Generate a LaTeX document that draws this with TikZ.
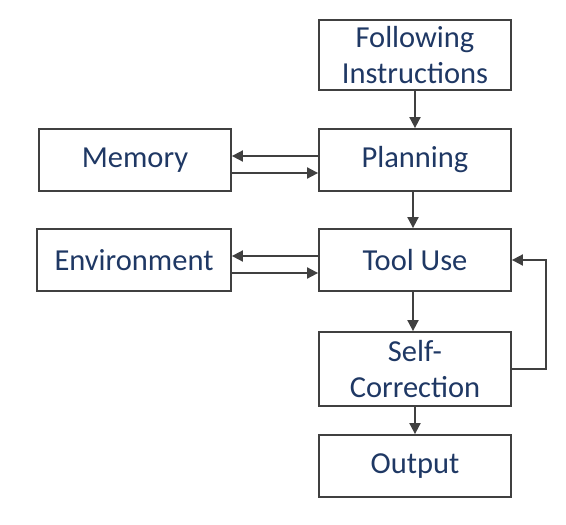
\documentclass[tikz,border=0pt]{standalone}
\usepackage{fontspec}
\setmainfont{Carlito}
\usetikzlibrary{arrows.meta}
\definecolor{txt}{HTML}{1F3864}
\definecolor{ln}{HTML}{404040}
\begin{document}
\begin{tikzpicture}[x=1pt,y=-1pt,
  box/.style={draw=ln,line width=1.8pt,minimum width=192pt,align=center,text=txt,font=\fontsize{30.5}{36}\selectfont,inner sep=0pt},
  arr/.style={draw=ln,line width=1.8pt,-{Triangle[length=11pt,width=11pt]}}]
\useasboundingbox (0,0) rectangle (566,525);
\node[box,minimum height=70pt] (fi) at (415,55) {Following\\Instructions};
\node[box,minimum height=62pt] (pl) at (415,160) {Planning};
\node[box,minimum height=62pt] (mem) at (135,160) {Memory};
\node[box,minimum height=62pt] (tu) at (415,260) {Tool Use};
\node[box,minimum height=62pt,minimum width=194pt] (env) at (134,260) {Environment};
\node[box,minimum height=74pt] (sc) at (415,369) {Self-\\Correction};
\node[box,minimum height=62pt] (out) at (415,466) {Output};
\draw[arr] (fi) -- (pl);
\draw[arr] ([xshift=-2pt]pl.south) -- ([xshift=-2pt]tu.north);
\draw[arr] ([xshift=-2pt]tu.south) -- ([xshift=-2pt]sc.north);
\draw[arr] (sc) -- (out);
\draw[arr] ([yshift=4pt]pl.west) -- ([yshift=4pt]mem.east);
\draw[arr] ([yshift=-13pt]mem.east) -- ([yshift=-13pt]pl.west);
\draw[arr] ([yshift=4pt]tu.west) -- ([yshift=4pt]env.east);
\draw[arr] ([yshift=-13pt]env.east) -- ([yshift=-13pt]tu.west);
\draw[arr] (sc.east) -- (546,369) |- (tu.east);
\end{tikzpicture}
\end{document}
